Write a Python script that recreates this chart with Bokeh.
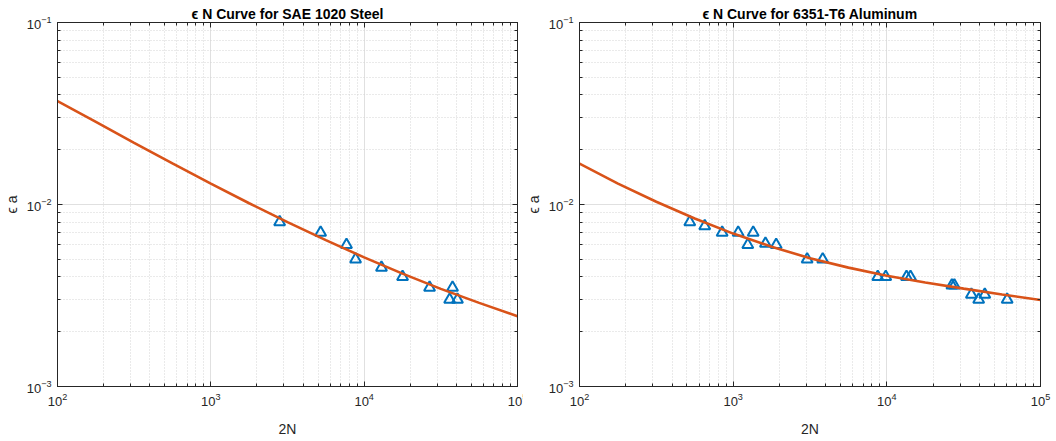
from bokeh.plotting import figure
from bokeh.layouts import row
from bokeh.models import FixedTicker, Range1d, LogAxis, CustomJSTickFormatter
from bokeh.embed import file_html
from bokeh.resources import INLINE

# ---------------- data ----------------
steel_N = [2810, 5200, 7670, 8790, 12970, 17800, 26700, 37700, 36100, 40600]
steel_ea = [0.0080, 0.0070, 0.0060, 0.0050, 0.0045, 0.0040, 0.0035, 0.0035, 0.0030, 0.0030]

alum_N = [522, 653, 848, 1078, 1350, 1245, 1622, 1905, 3030, 3826,
          8730, 9840, 13430, 14260, 26500, 27500, 35500, 39600, 43400, 60700]
alum_ea = [0.0080, 0.0076, 0.0070, 0.0070, 0.0070, 0.0060, 0.0061, 0.0060, 0.0050, 0.0050,
           0.0040, 0.0040, 0.0040, 0.0040, 0.0036, 0.0036, 0.0032, 0.0030, 0.0032, 0.0030]

curve_N = [100, 178, 316, 562, 1000, 1778, 3162, 5623, 10000, 17783, 31623, 56234, 100000]
steel_curve = [0.03698, 0.02844, 0.02183, 0.01683, 0.01303, 0.01016, 0.00800,
               0.00637, 0.00512, 0.00417, 0.00344, 0.00288, 0.00243]
alum_curve = [0.01679, 0.01303, 0.01035, 0.00838, 0.00692, 0.00586, 0.00507,
              0.00450, 0.00406, 0.00373, 0.00345, 0.00320, 0.00299]

x_major = [1e2, 1e3, 1e4, 1e5]
y_major = [1e-3, 1e-2, 1e-1]
titles = ["\u03f5 N Curve for SAE 1020 Steel", "\u03f5 N Curve for 6351-T6 Aluminum"]
x_label = "2N"
y_label = "\u03f5 a"

x_minor = [m * d for d in [1e2, 1e3, 1e4] for m in range(2, 10)]
y_minor = [m * d for d in [1e-3, 1e-2] for m in range(2, 10)]

FONT = "Liberation Sans"
AX = "#262626"
BLUE = "#0072BD"
ORANGE = "#D95319"


def style_axis(ax, labels=True):
    ax.axis_line_color = AX
    ax.major_tick_line_color = AX
    ax.minor_tick_line_color = AX
    ax.major_tick_in = 5
    ax.major_tick_out = 0
    ax.minor_tick_in = 3
    ax.minor_tick_out = 0
    ax.major_label_text_font = FONT
    ax.major_label_text_color = AX
    ax.axis_label_text_font = FONT
    ax.axis_label_text_font_style = "normal"
    ax.axis_label_text_color = AX
    ax.axis_label_text_font_size = "14px"
    if labels:
        ax.major_label_text_font_size = "13px"
        ax.major_label_standoff = 6
    else:
        ax.formatter = CustomJSTickFormatter(code="return ''")
        ax.major_label_text_font_size = "1px"
        ax.major_label_standoff = 0


def make(title, N, ea, curve, fw, left, right):
    p = figure(frame_width=fw, frame_height=364, x_axis_type="log", y_axis_type="log",
               x_range=Range1d(1e2, 1e5), y_range=Range1d(1e-3, 1e-1),
               output_backend="svg", toolbar_location=None,
               min_border_left=left, min_border_right=right,
               min_border_top=22, min_border_bottom=40)
    p.title.text = title
    p.title.align = "center"
    p.title.text_font = FONT
    p.title.text_font_size = "14px"
    p.title.text_font_style = "bold"
    p.title.text_color = "#000000"
    p.title.standoff = 1
    p.outline_line_color = AX
    p.outline_line_width = 1
    p.background_fill_color = "white"
    p.border_fill_color = "white"

    xt = FixedTicker(ticks=x_major, minor_ticks=x_minor)
    yt = FixedTicker(ticks=y_major, minor_ticks=y_minor)
    p.xaxis.ticker = xt
    p.yaxis.ticker = yt
    style_axis(p.xaxis[0])
    style_axis(p.yaxis[0])
    p.xaxis.axis_label = x_label
    p.xaxis.axis_label_standoff = 12
    p.yaxis.axis_label = y_label
    p.yaxis.axis_label_standoff = 4

    top = LogAxis(ticker=FixedTicker(ticks=x_major, minor_ticks=x_minor))
    style_axis(top, labels=False)
    p.add_layout(top, "above")
    rgt = LogAxis(ticker=FixedTicker(ticks=y_major, minor_ticks=y_minor))
    style_axis(rgt, labels=False)
    p.add_layout(rgt, "right")

    for g in (p.xgrid[0], p.ygrid[0]):
        g.grid_line_color = "#e0e0e0"
        g.grid_line_width = 1
        g.minor_grid_line_color = "#d4d4d4"
        g.minor_grid_line_dash = "1 2"
        g.minor_grid_line_width = 1
    p.xgrid.ticker = xt
    p.ygrid.ticker = yt

    p.scatter(N, ea, marker="triangle", size=11, line_color=BLUE,
              line_width=2, fill_alpha=0)
    p.line(curve_N, curve, line_color=ORANGE, line_width=2.6)
    return p


p1 = make(titles[0], steel_N, steel_ea, steel_curve, 460, 51, 20)
p2 = make(titles[1], alum_N, alum_ea, alum_curve, 461, 52, 12)
p2.margin = (0, 0, 0, -15)
p = row(p1, p2)
p.spacing = 0

open("out.html", "w").write(file_html(p, INLINE))
